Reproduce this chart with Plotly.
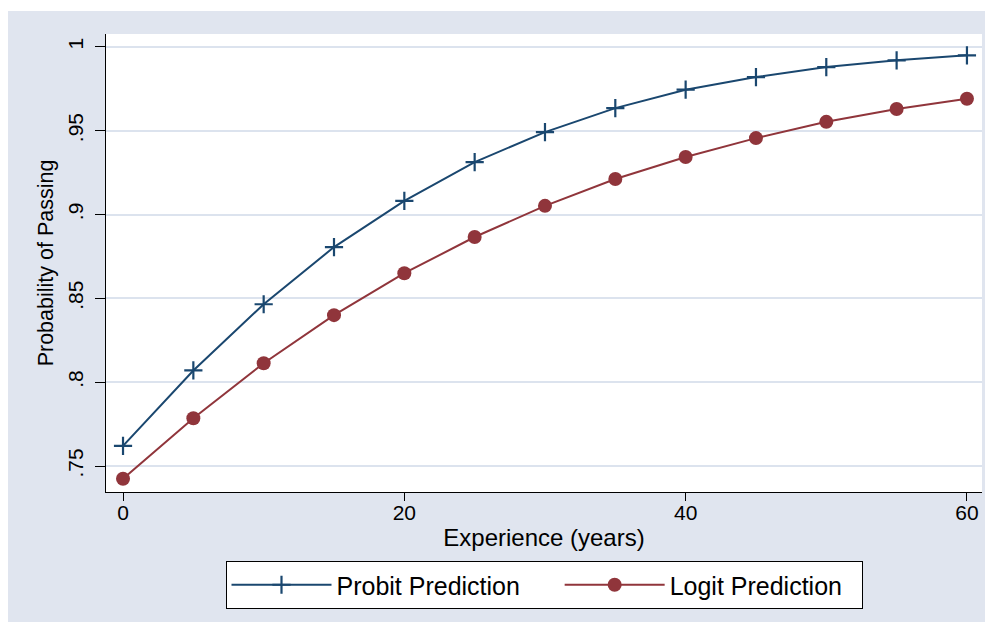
import plotly.graph_objects as go

experience = [0, 5, 10, 15, 20, 25, 30, 35, 40, 45, 50, 55, 60]
probit_pred = [0.762, 0.807, 0.8465, 0.8806, 0.9082, 0.9313, 0.9492, 0.9635, 0.9745, 0.982, 0.988, 0.992, 0.995]
logit_pred = [0.7424, 0.7785, 0.8113, 0.840, 0.865, 0.8866, 0.9052, 0.9212, 0.9343, 0.9456, 0.9553, 0.963, 0.9691]

x_ticks = [0, 20, 40, 60]
y_ticks = [0.75, 0.8, 0.85, 0.9, 0.95, 1]
y_ticktext = ['.75', '.8', '.85', '.9', '.95', '1']

navy = '#1A476F'
maroon = '#90353B'
bg = '#E0E5EF'
font = 'Arial, Liberation Sans, sans-serif'

fig = go.Figure()
fig.add_trace(go.Scatter(
    x=experience, y=probit_pred, name='Probit Prediction' + '\u00a0' * 5,
    mode='lines+markers',
    line=dict(color=navy, width=2),
    marker=dict(symbol='cross-thin', size=13, line=dict(color=navy, width=2.2)),
))
fig.add_trace(go.Scatter(
    x=experience, y=logit_pred, name='Logit Prediction' + '\u00a0' * 2,
    mode='lines+markers',
    line=dict(color=maroon, width=2),
    marker=dict(symbol='circle', size=14, color=maroon),
))

# page body adds an 8px offset, so the figure is 8px smaller than the window
fig.update_layout(
    width=985, height=614,
    margin=dict(l=98, r=11, t=26, b=130),
    paper_bgcolor=bg,
    plot_bgcolor='white',
    font=dict(family=font, color='black', size=21),
    showlegend=True,
    legend=dict(
        orientation='h', x=0.5, xanchor='center', y=-0.1507, yanchor='top',
        bgcolor='white', bordercolor='black', borderwidth=1,
        font=dict(size=25), itemwidth=100,
    ),
    shapes=[
        dict(type='rect', xref='paper', yref='paper', x0=-0.2, x1=1.1,
             y0=(484 - 3) / 458, y1=1.2, fillcolor='white', line_width=0, layer='below'),
    ],
)

fig.update_xaxes(
    range=[-1.21, 61.07], tickvals=x_ticks, showgrid=False, zeroline=False,
    showline=True, linecolor='black', linewidth=1,
    ticks='outside', ticklen=8, tickcolor='black', ticklabelstandoff=-6,
    title=dict(text='Experience (years)', font=dict(size=24), standoff=5),
)
fig.update_yaxes(
    range=[0.7345, 1.0077], tickvals=y_ticks, ticktext=y_ticktext, tickangle=-90,
    showgrid=True, gridcolor='#DCE3EE', gridwidth=1.5, zeroline=False,
    showline=True, linecolor='black', linewidth=1,
    ticks='outside', ticklen=10, tickcolor='black', ticklabelstandoff=4,
    title=dict(text='Probability of Passing', font=dict(size=21.5), standoff=4),
)

fig.write_html('out.html')
